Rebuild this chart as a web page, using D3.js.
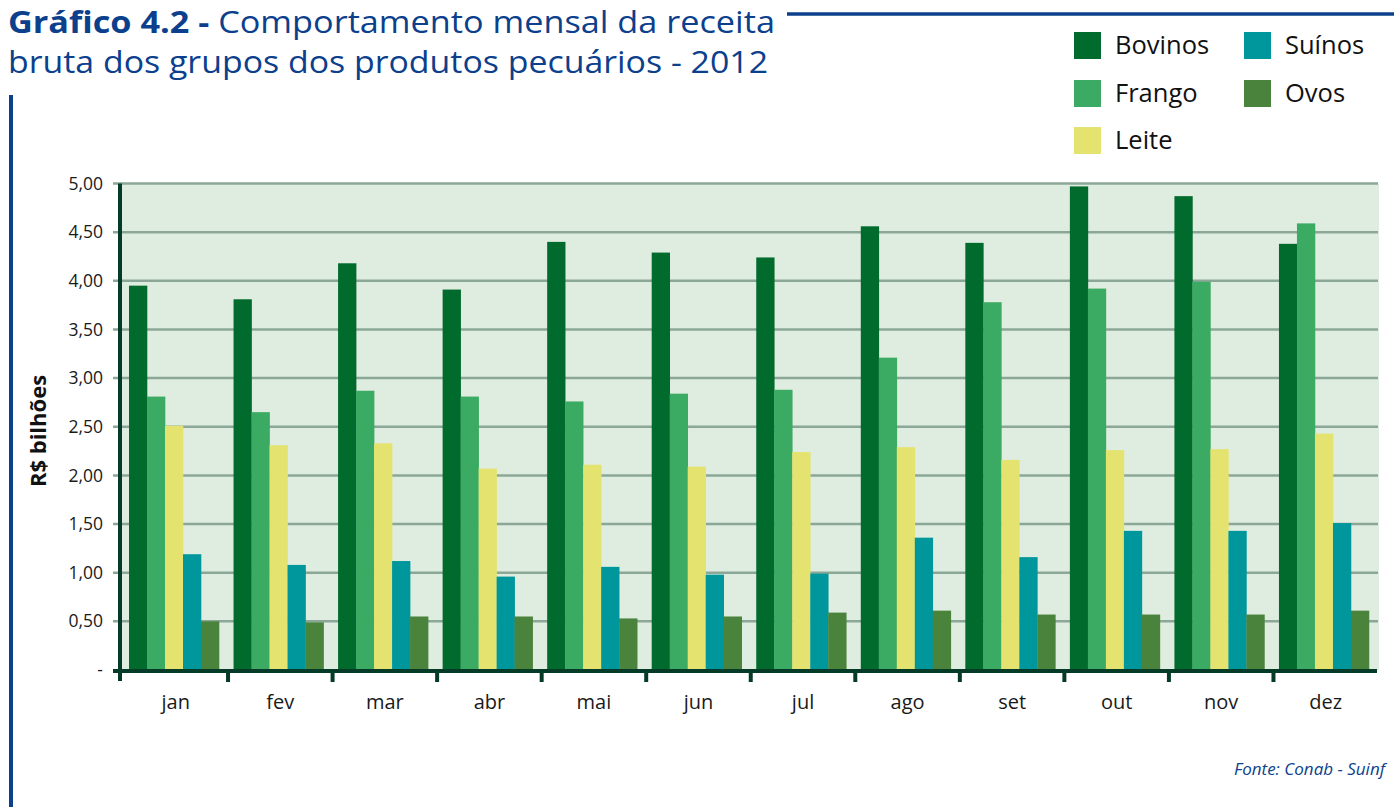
<!DOCTYPE html>
<html><head><meta charset="utf-8">
<script src="https://cdn.jsdelivr.net/npm/d3@7"></script>
<style>body{margin:0;background:#fff}svg{display:block}</style>
</head><body>
<script>
const months = ["jan","fev","mar","abr","mai","jun","jul","ago","set","out","nov","dez"];
const seriesNames = ["Bovinos","Frango","Leite","Suínos","Ovos"];
const bovinos = [3.95,3.81,4.18,3.91,4.40,4.29,4.24,4.56,4.39,4.97,4.87,4.38];
const frango  = [2.81,2.65,2.87,2.81,2.76,2.84,2.88,3.21,3.78,3.92,3.99,4.59];
const leite   = [2.51,2.31,2.33,2.07,2.11,2.09,2.24,2.29,2.16,2.26,2.27,2.43];
const suinos  = [1.19,1.08,1.12,0.96,1.06,0.98,0.99,1.36,1.16,1.43,1.43,1.51];
const ovos    = [0.50,0.49,0.55,0.55,0.53,0.55,0.59,0.61,0.57,0.57,0.57,0.61];
const yTicks = [0,0.5,1,1.5,2,2.5,3,3.5,4,4.5,5];
const yTickLabels = ["-","0,50","1,00","1,50","2,00","2,50","3,00","3,50","4,00","4,50","5,00"];
const colors = ["#006b2d","#3baa62","#e5e36f","#00979c","#4a833b"];
const allSeries = [bovinos,frango,leite,suinos,ovos];

const W=1394,H=807;
const svg=d3.select("body").append("svg").attr("width",W).attr("height",H);
const font="'Open Sans', 'Noto Sans', sans-serif";
const blue="#0c3f8c";
const axisCol="#033a28";

const x0=123.5,x1=1378,yTop=183.5,yBot=670;
const x=d3.scaleBand().domain(months).range([x0,x1]).padding(0);
const y=d3.scaleLinear().domain([0,5]).range([yBot,yTop]);
const xs=d3.scaleBand().domain(seriesNames).range([5.5,5.5+90]).padding(0);

// background
svg.append("rect").attr("x",120).attr("y",y(5)).attr("width",1379-120).attr("height",y(0)-y(5)).attr("fill","#dfede0");

// gridlines
svg.append("g").selectAll("line").data(yTicks.filter(d=>d>0)).join("line")
 .attr("x1",113).attr("x2",1378).attr("y1",d=>y(d)).attr("y2",d=>y(d))
 .attr("stroke","#8ba797").attr("stroke-width",2.5);

// y labels
svg.append("g").selectAll("text").data(yTicks).join("text")
 .attr("x",103).attr("y",d=>y(d)).attr("dy","0.35em").attr("text-anchor","end")
 .attr("font-family",font).attr("font-size",17.5).attr("fill","#1a1a1a")
 .text((d,i)=>yTickLabels[i]);

// bars
const g=svg.append("g");
months.forEach((m,mi)=>{
  allSeries.forEach((s,si)=>{
    g.append("rect").attr("x",x(m)+xs(seriesNames[si])).attr("width",xs.bandwidth()+0.3)
     .attr("y",y(s[mi])).attr("height",y(0)-y(s[mi])).attr("fill",colors[si]);
  });
});

// axes
svg.append("line").attr("x1",120).attr("x2",120).attr("y1",y(5)).attr("y2",681).attr("stroke",axisCol).attr("stroke-width",4);
svg.append("line").attr("x1",113).attr("x2",1377).attr("y1",y(0)+1).attr("y2",y(0)+1).attr("stroke",axisCol).attr("stroke-width",4);
svg.append("g").selectAll("line").data(months.slice(1)).join("line")
 .attr("x1",d=>x(d)).attr("x2",d=>x(d)).attr("y1",y(0)).attr("y2",682).attr("stroke",axisCol).attr("stroke-width",4);
svg.append("g").selectAll("text").data(months).join("text")
 .attr("x",d=>x(d)+x.bandwidth()/2).attr("y",709).attr("text-anchor","middle")
 .attr("font-family",font).attr("font-size",20).attr("fill","#1a1a1a").text(d=>d);

// y title
svg.append("text").attr("transform","translate(46,431) rotate(-90)").attr("text-anchor","middle")
 .attr("font-family",font).attr("font-size",22).attr("font-weight","bold").attr("fill","#111").text("R$ bilhões");

// title
const t=svg.append("text").attr("x",8).attr("y",33).attr("font-family",font).attr("font-size",30.5).attr("fill",blue)
 .attr("textLength",767).attr("lengthAdjust","spacingAndGlyphs");
t.append("tspan").attr("font-weight","bold").text("Gráfico 4.2 -");
t.append("tspan").text(" Comportamento mensal da receita");
svg.append("text").attr("x",8).attr("y",73).attr("font-family",font).attr("font-size",30.5).attr("fill",blue)
 .attr("textLength",760).attr("lengthAdjust","spacingAndGlyphs")
 .text("bruta dos grupos dos produtos pecuários - 2012");
svg.append("line").attr("x1",787).attr("x2",1394).attr("y1",14).attr("y2",14).attr("stroke",blue).attr("stroke-width",3.5);
svg.append("line").attr("x1",11).attr("x2",11).attr("y1",95).attr("y2",807).attr("stroke",blue).attr("stroke-width",4);

// legend
const legPos=[[1074,32],[1074,80],[1074,127],[1244,32],[1244,80]];
const leg=svg.append("g");
seriesNames.forEach((n,i)=>{
  const [lx,ly]=legPos[i];
  leg.append("rect").attr("x",lx).attr("y",ly).attr("width",27).attr("height",27).attr("fill",colors[i]);
  leg.append("text").attr("x",lx+41).attr("y",ly+22).attr("font-family",font).attr("font-size",25.5).attr("fill","#111").text(n);
});

// source
svg.append("text").attr("x",1385).attr("y",775).attr("text-anchor","end").attr("font-family",font)
 .attr("font-size",17).attr("font-style","italic").attr("fill",blue).text("Fonte: Conab - Suinf");
</script>
</body></html>
